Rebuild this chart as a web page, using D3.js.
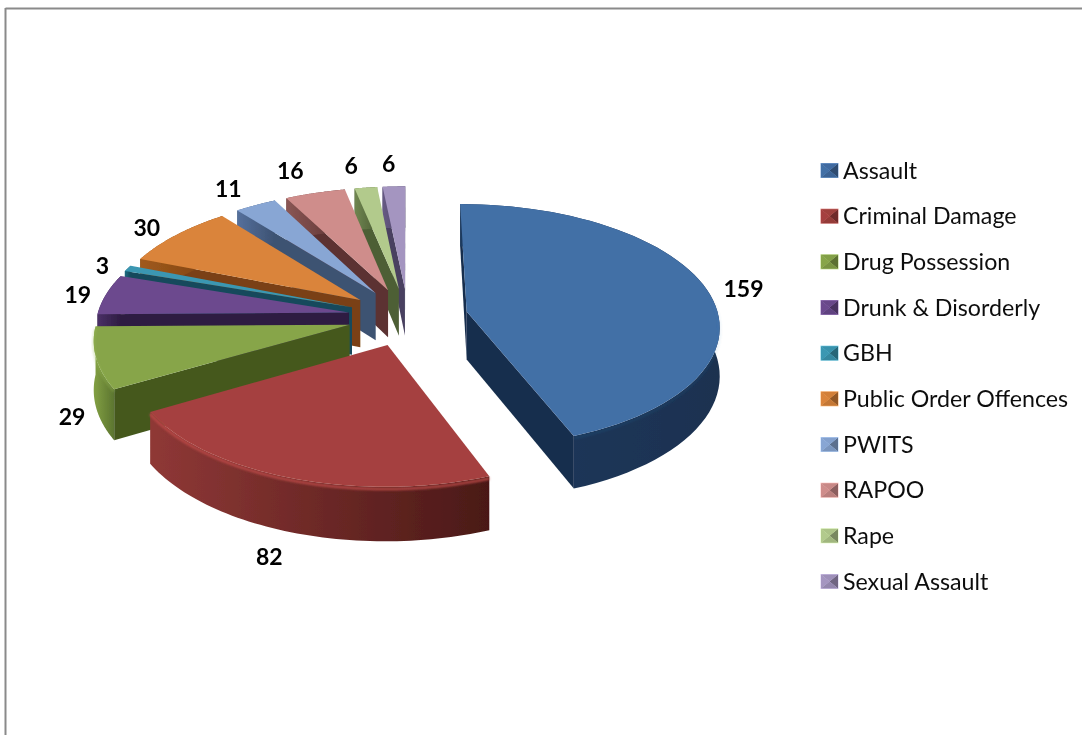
<!DOCTYPE html>
<html>
<head>
<meta charset="utf-8">
<script src="https://d3js.org/d3.v7.min.js"></script>
<style>
  html, body { margin: 0; padding: 0; background: #fff; }
  svg { display: block; }
</style>
</head>
<body>
<div id="chart"></div>
<script>
const categories = ["Assault", "Criminal Damage", "Drug Possession", "Drunk & Disorderly", "GBH",
  "Public Order Offences", "PWITS", "RAPOO", "Rape", "Sexual Assault"];
const counts = [159, 82, 29, 19, 3, 30, 11, 16, 6, 6];

const topColors  = ["#426fa6", "#a5413f", "#87a54a", "#6c4a8e", "#3a97b2", "#da843a", "#88a6d4", "#cf8d8b", "#b2ca8c", "#a495c0"];
const wallColors = ["#192f4d", "#5a1e1c", "#44591f", "#2e1c42", "#154a5c", "#7a4012", "#3d5272", "#5b3232", "#4e5f36", "#494160"];
const rimLeft    = ["#1d3a5e", "#8f3836", "#82a043", "#4a3066", "#1f6a80", "#a05a1c", "#55709c", "#8a5654", "#6f8550", "#675a84"];
const rimRight   = ["#1a3150", "#4a1917", "#5c7530", "#2e1c42", "#154a5c", "#7a4012", "#3d5272", "#5b3232", "#4e5f36", "#494160"];
const bevelAlpha = [0.12, 0.9, 0.35, 0, 0, 0, 0, 0, 0, 0];
const labelNudge = [[7, 2], [-8, 5], [9, 4], [2, 2], [2, 2], [-8, 0], [-14, -6], [-17, -12], [-11, -11], [-4, -12]];

const width = 1082, height = 735;
const cx = 408, cy = 317, R = 252, explode = 60, tilt = 0.485, persp = 0.11, depth = 48;

const svg = d3.select("#chart").append("svg")
  .attr("width", width)
  .attr("height", height);

const defs = svg.append("defs");
defs.append("filter").attr("id", "soft")
  .append("feGaussianBlur").attr("stdDeviation", 0.6);
defs.append("filter").attr("id", "glow")
  .append("feGaussianBlur").attr("stdDeviation", 1);
defs.append("filter").attr("id", "textSoft")
  .append("feGaussianBlur").attr("stdDeviation", 0.3);

// chart frame, only top and left show in the crop
svg.append("line").attr("x1", 5.5).attr("x2", width).attr("y1", 8.5).attr("y2", 8.5)
  .attr("stroke", "#8a8a8a").attr("stroke-width", 2);
svg.append("line").attr("x1", 5.5).attr("x2", 5.5).attr("y1", 8).attr("y2", height)
  .attr("stroke", "#8a8a8a").attr("stroke-width", 2);

/* world -> screen, y is depth towards the viewer, z goes down */
const project = (x, y, z) => {
  const p = 1 + persp * y / R;
  return [cx + x * p, cy + (y * tilt + z) * p];
};

const pie = d3.pie().sort(null);
const slices = pie(counts).map((d, i) => {
  const mid = (d.startAngle + d.endAngle) / 2;
  return {
    i,
    a0: d.startAngle,
    a1: d.endAngle,
    mid,
    ox: explode * Math.sin(mid),
    oy: -explode * Math.cos(mid)
  };
});

const rimPoint = (s, a, z, r = R) => project(s.ox + r * Math.sin(a), s.oy - r * Math.cos(a), z);
const arcAngles = (s) => d3.range(0, 61).map(k => s.a0 + (s.a1 - s.a0) * k / 60);
const path = d3.line();

const pieG = svg.append("g").attr("filter", "url(#soft)");

/* back to front, so the nearer wedges cover the ones behind */
const order = slices.slice().sort((a, b) => a.oy - b.oy);

order.forEach(s => {
  const g = pieG.append("g").attr("class", "slice");
  const apex = project(s.ox, s.oy, 0);
  const apexLow = project(s.ox, s.oy, depth);
  const angles = arcAngles(s);

  // cut faces of the wedge, keep the ones facing the viewer
  [[s.a0, 1], [s.a1, -1]].forEach(([a, sign]) => {
    const quad = [apex, rimPoint(s, a, 0), rimPoint(s, a, depth), apexLow];
    if (d3.polygonArea(quad) * sign > 0) {
      g.append("path")
        .attr("d", path(quad) + "Z")
        .attr("fill", wallColors[s.i]);
    }
  });

  // outer rim
  const top = angles.map(a => rimPoint(s, a, 0));
  const low = angles.map(a => rimPoint(s, a, depth)).reverse();
  const xs = d3.extent(top, d => d[0]);
  const grad = defs.append("linearGradient")
    .attr("id", "rim" + s.i)
    .attr("gradientUnits", "userSpaceOnUse")
    .attr("x1", xs[0]).attr("x2", xs[1]).attr("y1", 0).attr("y2", 0);
  grad.append("stop").attr("offset", 0).attr("stop-color", rimLeft[s.i]);
  grad.append("stop").attr("offset", 1).attr("stop-color", rimRight[s.i]);
  g.append("path")
    .attr("d", path(top.concat(low)) + "Z")
    .attr("fill", `url(#rim${s.i})`);

  // top face
  g.append("path")
    .attr("d", path([apex].concat(top)) + "Z")
    .attr("fill", topColors[s.i]);

  // light bevel along the front edge
  const front = angles.filter(a => Math.cos(a) < 0.1).map(a => rimPoint(s, a, 2));
  if (front.length > 1 && bevelAlpha[s.i] > 0) {
    g.append("path")
      .attr("d", path(front))
      .attr("fill", "none")
      .attr("stroke", d3.color(topColors[s.i]).brighter(0.4))
      .attr("stroke-opacity", bevelAlpha[s.i])
      .attr("stroke-width", 2.5)
      .attr("filter", "url(#glow)");
  }
});

/* value labels sit just outside the rim */
slices.forEach(s => {
  const r = R + explode + 32;
  const front = Math.cos(s.mid) < -0.2 ? depth : 0;
  const [lx, ly] = project(r * Math.sin(s.mid), -r * Math.cos(s.mid), front);
  svg.append("text")
    .attr("x", lx + labelNudge[s.i][0])
    .attr("y", ly + labelNudge[s.i][1])
    .attr("dy", "0.36em")
    .attr("text-anchor", "middle")
    .attr("font-family", "Lato, sans-serif")
    .attr("font-size", "23px")
    .attr("font-weight", "700")
    .attr("fill", "#000")
    .attr("filter", "url(#textSoft)")
    .text(counts[s.i]);
});

/* legend */
const legendY = d3.scalePoint().domain(categories).range([170.5, 581.5]);
const legend = svg.append("g").attr("class", "legend")
  .selectAll("g")
  .data(categories)
  .enter()
  .append("g")
  .attr("transform", d => `translate(821,${legendY(d)})`);

legend.each(function (d, i) {
  const g = d3.select(this);
  const w = 17, h = 14;
  const base = d3.color(topColors[i]);
  const mark = g.append("g").attr("filter", "url(#textSoft)");
  mark.append("rect").attr("x", -0.5).attr("y", -h / 2 - 0.5).attr("width", w + 1).attr("height", h + 1)
    .attr("fill", base.brighter(0.6)).attr("opacity", 0.75);
  mark.append("path") // left side
    .attr("d", `M0,${-h / 2}L${w / 2},0L0,${h / 2}Z`)
    .attr("fill", base);
  mark.append("path") // right side, darkest
    .attr("d", `M${w},${-h / 2}L${w / 2},0L${w},${h / 2}Z`)
    .attr("fill", base.darker(1.1));
  mark.append("path") // top and bottom
    .attr("d", `M0,${-h / 2}L${w},${-h / 2}L${w / 2},0Z`)
    .attr("fill", base.darker(0.1));
  mark.append("path")
    .attr("d", `M0,${h / 2}L${w},${h / 2}L${w / 2},0Z`)
    .attr("fill", base.darker(0.3));
  g.append("text")
    .attr("x", 22)
    .attr("y", 0)
    .attr("dy", "0.35em")
    .attr("font-family", "Lato, sans-serif")
    .attr("font-size", "23.2px")
    .attr("fill", "#111")
    .attr("filter", "url(#textSoft)")
    .text(d);
});
</script>
</body>
</html>
